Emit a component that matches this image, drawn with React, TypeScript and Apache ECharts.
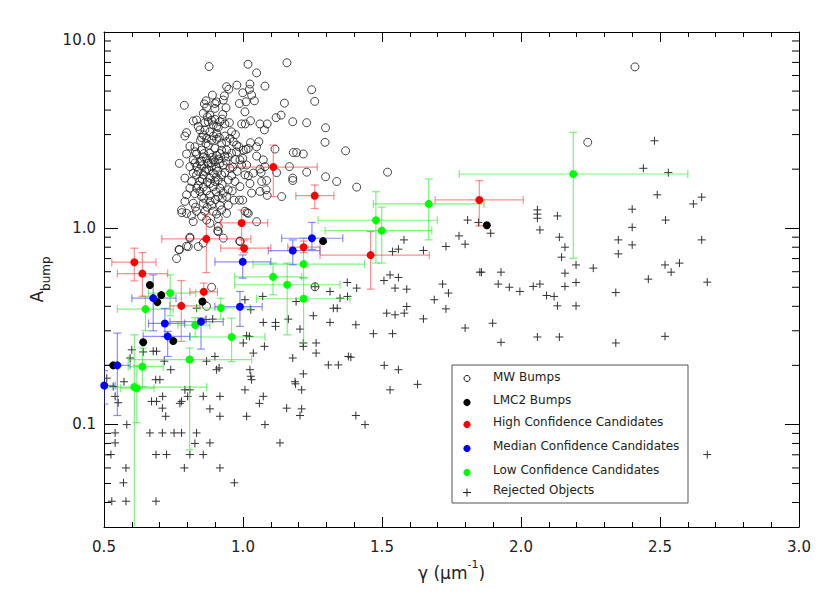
import React, { useEffect, useRef } from "react";
import * as echarts from "echarts";

const FONT = "DejaVu Sans";
const X_MIN = 0.5;
const X_MAX = 3.0;
const Y_MIN = 0.03;
const Y_MAX = 10;

// MW bumps: [gamma, A_bump]
const mwBumps: number[][] = [
  [0.878, 6.67], [1.018, 6.85], [1.158, 6.97], [1.049, 6.19], [0.978, 5.36], [1.025, 5.43], [1.079, 5.3], [0.941, 5.26],
  [0.949, 5.11], [0.999, 4.9], [1.023, 5.1], [1.031, 4.77], [1.247, 5.08], [0.933, 4.73], [0.89, 4.77], [0.867, 4.46],
  [0.899, 4.32], [0.929, 4.5], [0.987, 4.32], [1.011, 4.41], [1.041, 4.46], [1.258, 4.43], [1.149, 4.34], [0.789, 4.23],
  [0.869, 4.13], [0.899, 4.08], [0.939, 4.11], [1.007, 3.92], [1.137, 3.77], [1.119, 3.66],
  [0.821, 3.52], [0.833, 3.56], [0.872, 3.7], [0.881, 3.77], [0.899, 3.59], [0.917, 3.49], [0.935, 3.4], [0.951, 3.45],
  [0.995, 3.4], [1.008, 3.4], [1.027, 3.53], [1.061, 3.4], [1.087, 3.4], [1.077, 3.17], [1.179, 3.49], [1.229, 3.45],
  [1.297, 3.25], [0.797, 3.07], [0.845, 3.17], [0.863, 3.17], [0.881, 3.1], [0.905, 3.04], [0.959, 3.1],
  [0.791, 2.95], [0.809, 2.62], [0.827, 2.6], [0.851, 2.9], [0.869, 2.87], [0.887, 2.81], [0.905, 2.84], [0.923, 2.71],
  [0.941, 2.76], [0.965, 2.76], [0.977, 2.65], [1.027, 2.73], [1.057, 2.76], [1.295, 2.74], [1.049, 2.6], [1.001, 2.5],
  [1.011, 2.52], [1.019, 2.55], [1.115, 2.53], [1.181, 2.43], [1.193, 2.43], [1.217, 2.39], [1.369, 2.48],
  [0.797, 2.39], [0.833, 2.39], [0.857, 2.31], [0.881, 2.41], [0.905, 2.35], [0.935, 2.33], [0.959, 2.41], [0.989, 2.23],
  [1.049, 2.33], [1.073, 2.23], [0.771, 2.14], [0.821, 2.23], [0.845, 2.18], [0.869, 2.27], [0.893, 2.23], [0.917, 2.14],
  [0.947, 2.31], [0.971, 2.24], [0.999, 2.27],
  [0.809, 2.06], [0.833, 2.06], [0.851, 2.08], [0.869, 2.0], [0.887, 2.06], [0.905, 2.04], [0.929, 2.1], [0.953, 2.02],
  [0.995, 2.1], [1.013, 2.1], [1.061, 2.0], [1.079, 2.06], [1.121, 1.92], [1.229, 1.93], [0.821, 1.91], [0.857, 1.87],
  [0.893, 1.91], [0.923, 1.87], [0.959, 1.85], [1.007, 1.87], [1.019, 1.85], [1.037, 1.91], [1.065, 1.92], [1.167, 2.06],
  [1.297, 1.83], [1.337, 1.73], [1.179, 1.8], [1.179, 1.75],
  [0.791, 1.8], [0.815, 1.73], [0.845, 1.74], [0.881, 1.8], [0.911, 1.76], [0.947, 1.76], [0.971, 1.73], [1.025, 1.69],
  [1.067, 1.73], [1.085, 1.75],
  [0.809, 1.6], [0.833, 1.6], [0.857, 1.62], [0.893, 1.63], [0.917, 1.6], [0.947, 1.57], [0.989, 1.63], [1.031, 1.51],
  [1.061, 1.54], [1.083, 1.57], [1.139, 1.45], [1.409, 1.62], [0.797, 1.48], [0.827, 1.5], [0.851, 1.45], [0.881, 1.47],
  [0.911, 1.45], [0.941, 1.45], [0.968, 1.39], [0.999, 1.39], [1.087, 1.47], [0.791, 1.37], [0.821, 1.34], [0.857, 1.34],
  [0.887, 1.31], [0.917, 1.31], [0.947, 1.31],
  [0.779, 1.24], [0.797, 1.19], [0.815, 1.16], [0.833, 1.22], [0.863, 1.22], [0.893, 1.22], [0.923, 1.24], [0.821, 1.08],
  [0.869, 1.1], [0.911, 1.12], [1.007, 1.22], [1.019, 1.19], [1.049, 1.08], [0.911, 1.02], [0.911, 0.96], [0.989, 0.86],
  [0.809, 0.89], [0.77, 0.78], [0.797, 0.81],
  [0.857, 3.85], [0.875, 3.49], [0.893, 3.36], [0.911, 3.26], [0.857, 2.99], [0.893, 2.95], [0.875, 2.65], [0.899, 2.55],
  [0.923, 2.5], [0.851, 2.5], [0.875, 2.14], [0.899, 2.18], [0.863, 1.95], [0.881, 1.69], [0.845, 1.54], [0.929, 1.51],
  [0.899, 1.73], [0.941, 2.5], [0.953, 2.87], [0.977, 2.45], [0.833, 1.87], [0.881, 1.37],
  [0.839, 3.3], [0.863, 3.45], [0.887, 3.55], [0.905, 3.3], [0.925, 3.6], [0.847, 2.8], [0.867, 2.7], [0.915, 2.9],
  [0.935, 2.95], [0.829, 2.45], [0.859, 2.4], [0.889, 2.3], [0.917, 2.4], [0.939, 2.2], [0.827, 2.15], [0.851, 2.2],
  [0.885, 2.15], [0.913, 2.25], [0.839, 1.95], [0.877, 1.98], [0.909, 1.95], [0.935, 1.92], [0.853, 1.78], [0.871, 1.72],
  [0.903, 1.82], [0.925, 1.68], [0.839, 1.65], [0.869, 1.55], [0.903, 1.53], [0.925, 1.42], [0.859, 1.42], [0.901, 1.4],
  [0.829, 1.28], [0.871, 1.28], [0.905, 1.18], [0.851, 1.15], [0.881, 1.06], [0.941, 1.19], [0.961, 1.55], [0.963, 2.05],
  [0.979, 1.95], [0.985, 2.6], [0.973, 3.0], [0.927, 3.8], [0.905, 4.4], [0.861, 4.3],
  [0.78, 1.2], [0.761, 0.7], [0.771, 0.775], [0.803, 0.806], [0.839, 0.806], [0.809, 0.9], [0.929, 0.89], [0.989, 0.855],
  [1.015, 1.2], [0.987, 1.39], [0.887, 0.5], [0.869, 0.4], [1.259, 0.503], [0.909, 0.97], [0.857, 0.84], [1.52, 1.93],
  [2.41, 6.64], [2.24, 2.74],
];

// LMC2 bumps: [gamma, A_bump]
const lmc2Bumps: number[][] = [
  [0.665, 0.513], [0.706, 0.456], [0.692, 0.42], [0.854, 0.423], [0.641, 0.262], [0.749, 0.266], [0.533, 0.2],
  [1.288, 0.859], [1.877, 1.036],
];

// Candidates: [gamma, A_bump, gammaLow, gammaHigh, A_low, A_high]
const highConfidence: number[][] = [
  [0.609, 0.671, 0.528, 0.687, 0.539, 0.791],
  [0.638, 0.587, 0.548, 0.729, 0.45, 0.751],
  [0.868, 0.882, 0.708, 1.028, 0.594, 1.178],
  [0.995, 1.064, 0.919, 1.089, 0.776, 1.239],
  [1.004, 0.791, 0.92, 1.1, 0.75, 0.87],
  [1.218, 0.8, 1.161, 1.277, 0.75, 0.86],
  [1.109, 2.05, 0.95, 1.267, 1.449, 2.65],
  [1.258, 1.465, 1.19, 1.327, 1.26, 1.66],
  [0.859, 0.474, 0.809, 0.908, 0.423, 0.525],
  [0.778, 0.402, 0.737, 0.845, 0.265, 0.541],
  [1.85, 1.393, 1.691, 2.008, 1.027, 1.747],
  [1.459, 0.729, 1.277, 1.67, 0.489, 0.961],
];

const medianConfidence: number[][] = [
  [0.677, 0.44, 0.6, 0.759, 0.3, 0.578],
  [0.719, 0.327, 0.66, 0.79, 0.28, 0.39],
  [0.729, 0.281, 0.641, 0.809, 0.222, 0.298],
  [0.849, 0.334, 0.737, 0.929, 0.242, 0.348],
  [0.989, 0.398, 0.899, 1.069, 0.316, 0.476],
  [0.999, 0.674, 0.899, 1.1, 0.556, 0.731],
  [1.179, 0.769, 1.091, 1.277, 0.651, 0.872],
  [1.248, 0.889, 1.139, 1.359, 0.78, 1.07],
  [0.548, 0.2, 0.5, 0.594, 0.111, 0.292],
  [0.501, 0.158, 0.48, 0.54, 0.127, 0.188],
];

const lowConfidence: number[][] = [
  [0.649, 0.387, 0.548, 0.749, 0.3, 0.45],
  [0.738, 0.467, 0.66, 0.83, 0.358, 0.578],
  [0.828, 0.321, 0.766, 0.881, 0.28, 0.35],
  [0.92, 0.392, 0.833, 1.025, 0.344, 0.44],
  [0.959, 0.279, 0.809, 1.079, 0.209, 0.348],
  [0.808, 0.214, 0.587, 1.031, 0.0742, 0.245],
  [0.638, 0.197, 0.587, 0.713, 0.156, 0.245],
  [0.609, 0.155, 0.504, 0.869, 0.02, 0.286],
  [0.618, 0.153, 0.56, 0.68, 0.102, 0.2],
  [1.108, 0.565, 0.97, 1.211, 0.458, 0.664],
  [1.159, 0.515, 0.97, 1.349, 0.286, 0.665],
  [1.218, 0.656, 1.036, 1.437, 0.557, 0.89],
  [1.218, 0.437, 1.049, 1.385, 0.26, 0.56],
  [1.478, 1.098, 1.27, 1.699, 0.664, 1.535],
  [1.499, 0.972, 1.295, 1.679, 0.664, 1.28],
  [1.668, 1.33, 1.469, 1.867, 0.872, 1.78],
  [2.188, 1.889, 1.778, 2.6, 0.703, 3.08],
];

// Rejected objects: [gamma, A_bump]
const rejected: number[][] = [
  [0.54, 0.0905], [0.54, 0.0805], [0.525, 0.0702], [0.579, 0.06], [0.57, 0.0504], [0.528, 0.0406], [0.579, 0.0406],
  [0.582, 0.0998], [0.572, 0.165], [0.54, 0.139], [0.6, 0.24], [0.594, 0.218], [0.641, 0.234], [0.677, 0.236],
  [0.689, 0.236], [0.717, 0.21], [0.74, 0.19], [0.686, 0.169], [0.701, 0.169], [0.671, 0.131], [0.689, 0.131],
  [0.711, 0.139], [0.71, 0.121], [0.722, 0.11], [0.665, 0.0905], [0.71, 0.0905], [0.752, 0.0905], [0.779, 0.0905],
  [0.773, 0.128], [0.779, 0.131], [0.791, 0.15], [0.809, 0.15], [0.801, 0.139], [0.857, 0.139], [0.833, 0.0905],
  [0.881, 0.0805], [0.827, 0.08], [0.857, 0.0702], [0.809, 0.0702], [0.725, 0.0702], [0.687, 0.0702], [0.789, 0.06],
  [0.917, 0.06], [0.969, 0.0504], [0.917, 0.11], [0.881, 0.12], [0.869, 0.21], [0.899, 0.222], [0.905, 0.19],
  [0.914, 0.194], [0.917, 0.139], [1.013, 0.11], [1.031, 0.169], [1.025, 0.19], [1.007, 0.15], [1.073, 0.139],
  [1.079, 0.0998], [1.059, 0.128], [1.133, 0.0805], [1.157, 0.121], [1.179, 0.218], [1.187, 0.165], [0.687, 0.0406],
  [0.51, 0.172], [0.533, 0.156], [0.551, 0.129],
  [1.375, 0.529], [1.313, 0.476], [1.349, 0.44], [1.376, 0.449], [1.253, 0.358], [1.313, 0.331], [1.325, 0.391],
  [1.339, 0.391], [1.263, 0.26], [1.217, 0.26], [1.217, 0.25], [1.263, 0.231], [1.307, 0.201], [1.343, 0.201],
  [1.217, 0.181], [1.189, 0.161], [1.211, 0.15], [1.205, 0.111], [1.211, 0.12], [1.205, 0.306], [1.191, 0.423],
  [1.163, 0.344], [1.117, 0.331], [1.117, 0.316], [1.073, 0.331], [1.071, 0.449], [1.007, 0.432], [1.028, 0.384],
  [1.023, 0.281], [1.013, 0.283], [1.001, 0.26], [1.077, 0.25], [1.037, 0.231], [1.028, 0.176], [0.891, 0.344],
  [0.867, 0.342], [0.833, 0.391], [1.379, 0.222], [1.259, 0.503],
  [1.808, 1.1], [1.847, 1.07], [1.891, 0.943], [1.777, 0.914], [1.799, 0.829], [1.73, 0.807], [1.649, 0.77],
  [1.579, 0.872], [1.559, 0.782], [1.538, 0.76], [2.059, 1.24], [2.059, 1.18], [2.059, 1.124], [2.131, 1.155],
  [2.068, 0.98], [2.138, 0.9], [2.158, 0.8], [2.146, 0.712], [2.198, 0.65], [2.158, 0.59], [2.198, 0.529],
  [2.158, 0.505], [2.198, 0.402], [1.852, 0.597], [1.858, 0.597], [1.928, 0.597], [1.918, 0.519], [1.958, 0.5],
  [1.996, 0.476], [2.044, 0.505], [2.068, 0.519], [2.092, 0.454], [2.119, 0.449], [2.131, 0.402], [1.718, 0.519],
  [1.739, 0.467], [1.688, 0.432], [1.73, 0.388], [1.649, 0.345], [1.589, 0.489], [1.589, 0.399], [1.547, 0.495],
  [1.559, 0.561], [1.529, 0.578], [1.507, 0.541], [1.58, 0.369], [1.547, 0.362], [1.517, 0.369], [1.409, 0.495],
  [1.406, 0.322], [1.469, 0.29], [1.538, 0.29], [1.799, 0.31], [1.898, 0.328], [1.928, 0.262], [2.059, 0.279],
  [2.138, 0.279], [1.388, 0.22], [1.508, 0.2], [1.559, 0.19], [1.628, 0.16], [1.529, 0.15], [1.406, 0.111],
  [1.439, 0.0998],
  [2.48, 2.79], [2.44, 2.02], [2.53, 1.92], [2.49, 1.48], [2.62, 1.33], [2.65, 1.44], [2.4, 1.25], [2.52, 1.1],
  [2.4, 1.01], [2.35, 0.872], [2.4, 0.822], [2.65, 0.872], [2.35, 0.74], [2.26, 0.626], [2.518, 0.65], [2.54, 0.597],
  [2.57, 0.664], [2.458, 0.55], [2.67, 0.531], [2.341, 0.47], [2.341, 0.26], [2.518, 0.281], [2.67, 0.0702],
];

const yMinorTicks: number[] = [
  0.04, 0.05, 0.06, 0.07, 0.08, 0.09, 0.2, 0.3, 0.4, 0.5, 0.6, 0.7, 0.8, 0.9, 2, 3, 4, 5, 6, 7, 8, 9,
];

const legendLabels: string[] = [
  "MW Bumps",
  "LMC2 Bumps",
  "High Confidence Candidates",
  "Median Confidence Candidates",
  "Low Confidence Candidates",
  "Rejected Objects",
];

function errorBarSeries(data: number[][], color: string) {
  return {
    type: "custom",
    data,
    clip: true,
    silent: true,
    z: 3,
    encode: { x: 0, y: 1 },
    renderItem: (params: any, api: any) => {
      const x = api.value(0);
      const y = api.value(1);
      const l = api.coord([api.value(2), y]);
      const r = api.coord([api.value(3), y]);
      const b = api.coord([x, api.value(4)]);
      const t = api.coord([x, api.value(5)]);
      const c = 4;
      const style = { stroke: color, lineWidth: 1.2 };
      const ln = (x1: number, y1: number, x2: number, y2: number) => ({
        type: "line",
        shape: { x1, y1, x2, y2 },
        style,
      });
      return {
        type: "group",
        children: [
          ln(l[0], l[1], r[0], r[1]),
          ln(l[0], l[1] - c, l[0], l[1] + c),
          ln(r[0], r[1] - c, r[0], r[1] + c),
          ln(b[0], b[1], t[0], t[1]),
          ln(b[0] - c, b[1], b[0] + c, b[1]),
          ln(t[0] - c, t[1], t[0] + c, t[1]),
        ],
      };
    },
  };
}

function pointSeries(data: number[][], color: string) {
  return {
    type: "scatter",
    data,
    encode: { x: 0, y: 1 },
    symbol: "circle",
    symbolSize: 8,
    z: 4,
    silent: true,
    itemStyle: { color, opacity: 1 },
  };
}

const axisLineStyle = { color: "#000", width: 1 };

export default function App() {
  const ref = useRef<HTMLDivElement>(null);
  useEffect(() => {
    const chart = echarts.init(ref.current!, null, { renderer: "svg" });
    const xAxisBase = {
      type: "value",
      min: X_MIN,
      max: X_MAX,
      interval: 0.5,
      axisLine: { show: true, onZero: false, lineStyle: axisLineStyle },
      axisTick: { show: true, inside: true, length: 10, lineStyle: axisLineStyle },
      minorTick: { show: true, splitNumber: 5, length: 5, lineStyle: axisLineStyle },
      splitLine: { show: false },
    };
    const yAxisBase = {
      type: "log",
      logBase: 10,
      min: Y_MIN,
      max: Y_MAX,
      axisLine: { show: true, onZero: false, lineStyle: axisLineStyle },
      axisTick: { show: true, inside: true, length: 14, lineStyle: axisLineStyle },
      splitLine: { show: false },
    };
    const legendRows = [377, 399.5, 422, 446, 469.5, 489.5];
    const symX = 467;
    const textX = 493;
    const graphic: any[] = [
      {
        type: "rect",
        shape: { x: 452, y: 365, width: 236, height: 138 },
        style: { fill: "#fff", stroke: "#555", lineWidth: 1 },
        z: 100,
      },
      { type: "circle", shape: { cx: symX, cy: 378.5, r: 3 }, style: { fill: "none", stroke: "#111", lineWidth: 1 }, z: 101 },
      { type: "circle", shape: { cx: symX, cy: 402.5, r: 3.6 }, style: { fill: "#000" }, z: 101 },
      { type: "circle", shape: { cx: symX, cy: 424.5, r: 3.6 }, style: { fill: "#ff0000" }, z: 101 },
      { type: "circle", shape: { cx: symX, cy: 448.5, r: 3.6 }, style: { fill: "#0000ff" }, z: 101 },
      { type: "circle", shape: { cx: symX, cy: 472.5, r: 3.6 }, style: { fill: "#00ff00" }, z: 101 },
      { type: "line", shape: { x1: symX - 4, y1: 492.5, x2: symX + 4, y2: 492.5 }, style: { stroke: "#222", lineWidth: 1 }, z: 101 },
      { type: "line", shape: { x1: symX, y1: 488.5, x2: symX, y2: 496.5 }, style: { stroke: "#222", lineWidth: 1 }, z: 101 },
      ...legendLabels.map((t, i) => ({
        type: "text",
        x: textX,
        y: legendRows[i],
        z: 101,
        style: {
          text: t,
          fill: "#222",
          fontSize: 12,
          fontFamily: FONT,
          verticalAlign: "middle",
          align: "left",
        },
      })),
    ];
    const option: any = {
      animation: false,
      backgroundColor: "#fff",
      grid: { left: 104, right: 31, top: 32, bottom: 66, containLabel: false },
      xAxis: [
        {
          ...xAxisBase,
          position: "bottom",
          name: "{a|γ (μm}{s|-1}{a|)}",
          nameLocation: "middle",
          nameGap: 24,
          nameTextStyle: {
            rich: {
              a: { fontSize: 17, fontFamily: FONT, color: "#222", lineHeight: 28 },
              s: { fontSize: 11, fontFamily: FONT, color: "#222", verticalAlign: "top" },
            },
          },
          axisLabel: {
            show: true,
            margin: 12,
            fontSize: 15,
            fontFamily: FONT,
            color: "#222",
            formatter: (v: number) => v.toFixed(1),
          },
        },
        { ...xAxisBase, position: "top", axisLabel: { show: false } },
      ],
      yAxis: [
        {
          ...yAxisBase,
          position: "left",
          name: "{a|A}{b|bump}",
          nameLocation: "middle",
          nameGap: 51,
          nameRotate: 90,
          nameTextStyle: {
            rich: {
              a: { fontSize: 17, fontFamily: FONT, color: "#222", lineHeight: 30 },
              b: { fontSize: 12, fontFamily: FONT, color: "#222", verticalAlign: "bottom" },
            },
          },
          axisLabel: {
            show: true,
            margin: 8,
            fontSize: 15,
            fontFamily: FONT,
            color: "#222",
            showMinLabel: false,
            verticalAlignMaxLabel: "top",
            formatter: (v: number) => (v >= 1 ? v.toFixed(1) : String(+v.toFixed(2))),
          },
        },
        { ...yAxisBase, position: "right", axisLabel: { show: false } },
      ],
      series: [
        {
          type: "custom",
          data: rejected,
          clip: true,
          silent: true,
          z: 2,
          encode: { x: 0, y: 1 },
          renderItem: (params: any, api: any) => {
            const p = api.coord([api.value(0), api.value(1)]);
            const h = 4;
            const style = { stroke: "#333", lineWidth: 1 };
            return {
              type: "group",
              children: [
                { type: "line", shape: { x1: p[0] - h, y1: p[1], x2: p[0] + h, y2: p[1] }, style },
                { type: "line", shape: { x1: p[0], y1: p[1] - h, x2: p[0], y2: p[1] + h }, style },
              ],
            };
          },
        },
        {
          type: "scatter",
          data: mwBumps,
          symbol: "circle",
          symbolSize: 8,
          z: 2,
          silent: true,
          itemStyle: { color: "rgba(255,255,255,0)", borderColor: "#1a1a1a", borderWidth: 1 },
        },
        errorBarSeries(lowConfidence, "rgba(40,235,40,0.6)"),
        errorBarSeries(medianConfidence, "rgba(50,50,255,0.55)"),
        errorBarSeries(highConfidence, "rgba(255,50,50,0.55)"),
        pointSeries(lmc2Bumps, "#000000"),
        pointSeries(lowConfidence, "#00ff00"),
        pointSeries(medianConfidence, "#0000ff"),
        pointSeries(highConfidence, "#ff0000"),
        {
          type: "custom",
          data: yMinorTicks.map((v) => [X_MIN, v]),
          clip: false,
          silent: true,
          z: 5,
          renderItem: (params: any, api: any) => {
            const p = api.coord([X_MIN, api.value(1)]);
            const cs = params.coordSys;
            const style = { stroke: "#000", lineWidth: 1 };
            return {
              type: "group",
              children: [
                { type: "line", shape: { x1: cs.x, y1: p[1], x2: cs.x + 7, y2: p[1] }, style },
                { type: "line", shape: { x1: cs.x + cs.width - 7, y1: p[1], x2: cs.x + cs.width, y2: p[1] }, style },
              ],
            };
          },
        },
      ],
      graphic,
    };
    chart.setOption(option);
    return () => chart.dispose();
  }, []);
  return (
    <div
      ref={ref}
      style={{ position: "fixed", left: 0, top: 0, width: 830, height: 593, background: "#fff" }}
    />
  );
}
